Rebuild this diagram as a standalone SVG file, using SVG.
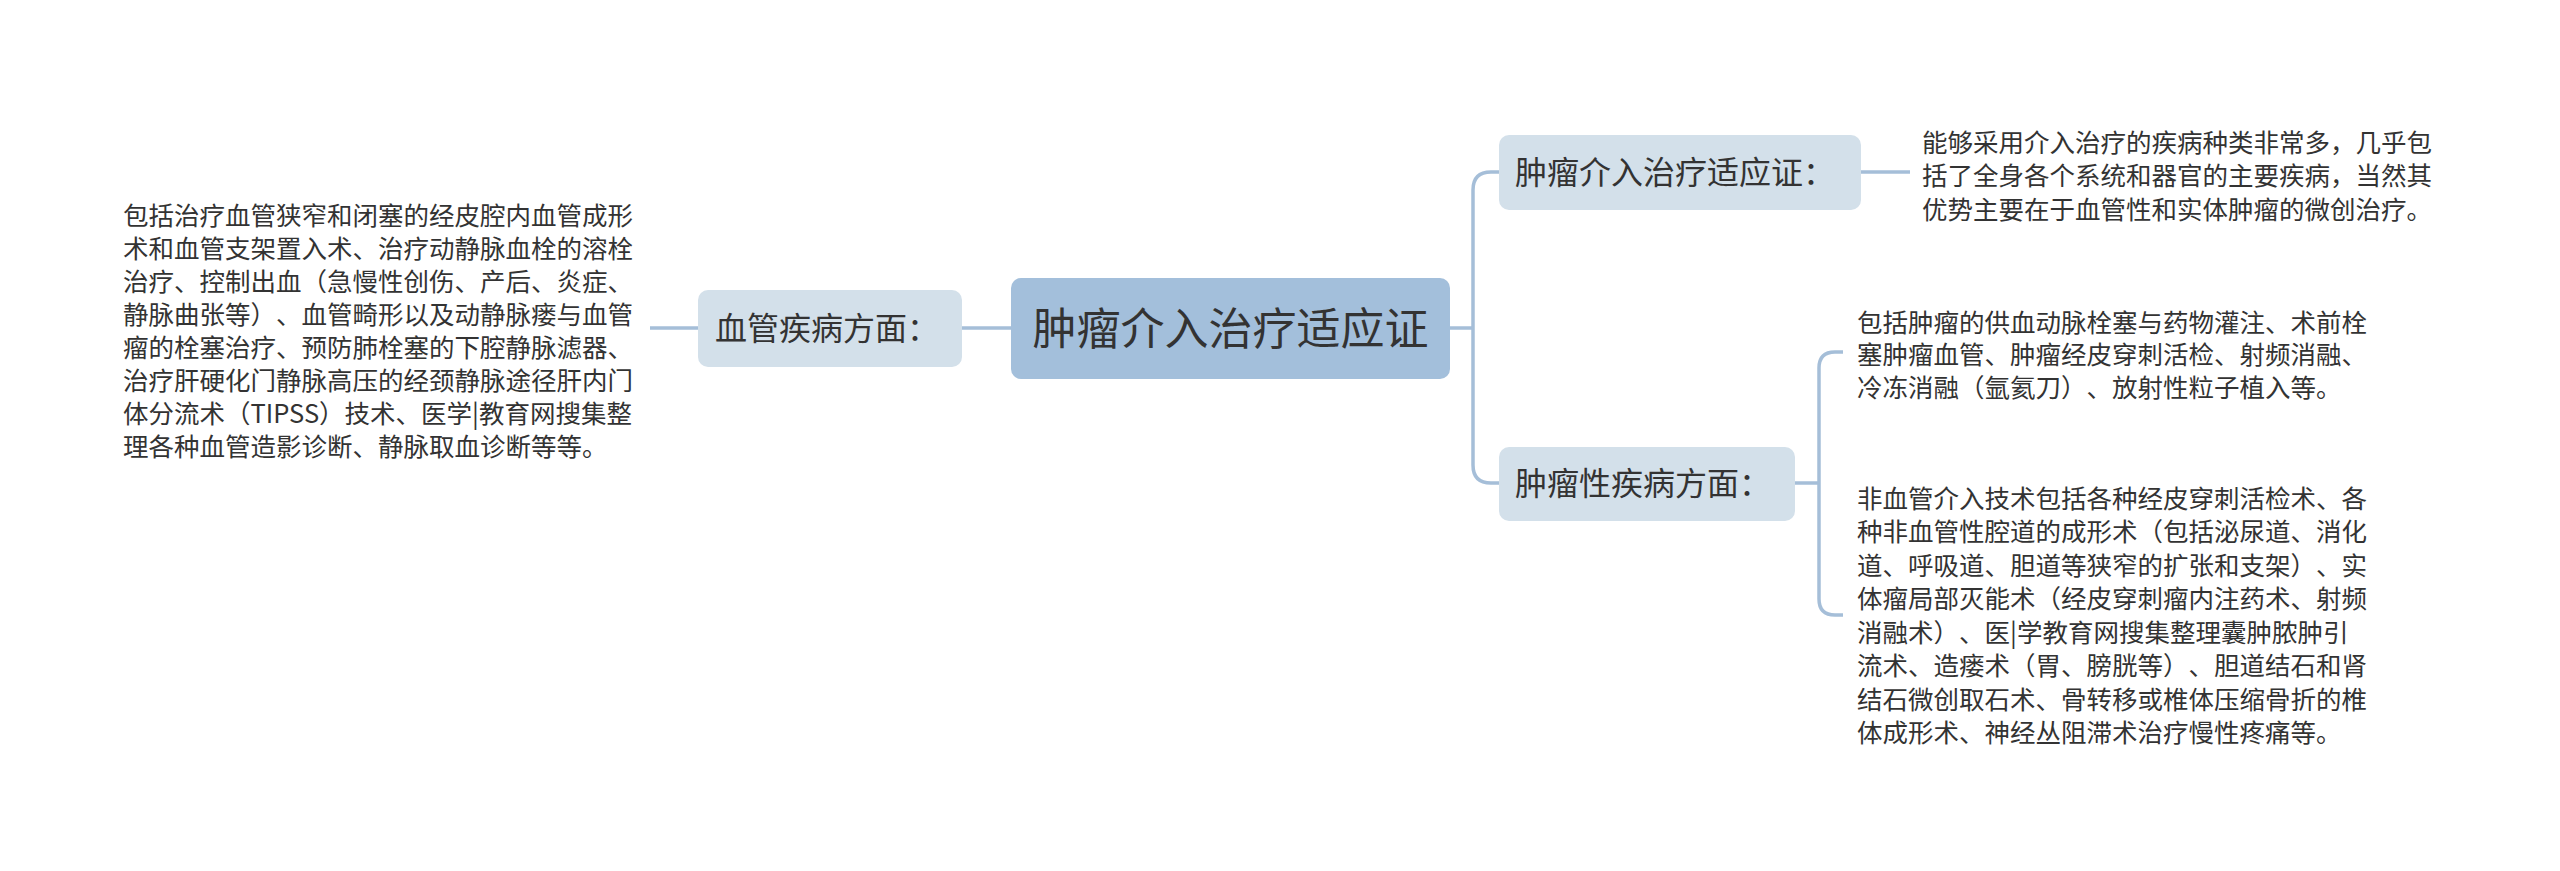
<svg xmlns="http://www.w3.org/2000/svg" width="2560" height="871" viewBox="0 0 2560 871">
<style>
.bg{fill:#ffffff}
.root{fill:#a3bfdb}
.sub{fill:#d3e0ea}
.t{font-family:"Noto Sans CJK SC","Noto Sans",sans-serif;fill:#333333;text-spacing-trim:space-all;font-feature-settings:"halt" 0,"chws" 0}
.rt{font-size:44px}
.st{font-size:32px}
.lt{font-size:25.5px}
.c{fill:none;stroke:#a5bed8;stroke-width:3.5}
</style>
<rect class="bg" x="0" y="0" width="2560" height="871"/>
<g id="connectors">
<path class="c" d="M650,328 H698"/>
<path class="c" d="M962,328 H1011"/>
<path class="c" d="M1450,328 H1473"/>
<path class="c" d="M1499,172 H1491 Q1473,172 1473,190 V465 Q1473,483 1491,483 H1499"/>
<path class="c" d="M1861,172 H1910"/>
<path class="c" d="M1795,483 H1819"/>
<path class="c" d="M1843,352 H1835 Q1819,352 1819,368 V599 Q1819,615 1835,615 H1843"/>
</g>
<g id="root">
<rect class="root" x="1011" y="278" width="439" height="101" rx="10"/>
<text class="t rt" x="1230.5" y="344.5" text-anchor="middle">肿瘤介入治疗适应证</text>
</g>
<g id="n-vascular">
<rect class="sub" x="698" y="290" width="264" height="77" rx="10"/>
<text class="t st" x="715" y="340">血管疾病方面：</text>
</g>
<g id="n-vascular-text">
<text class="t lt" x="123" y="224.5">包括治疗血管狭窄和闭塞的经皮腔内血管成形</text>
<text class="t lt" x="123" y="257.5">术和血管支架置入术、治疗动静脉血栓的溶栓</text>
<text class="t lt" x="123" y="290.5">治疗、控制出血（急慢性创伤、产后、炎症、</text>
<text class="t lt" x="123" y="323.5">静脉曲张等）、血管畸形以及动静脉瘘与血管</text>
<text class="t lt" x="123" y="356.5">瘤的栓塞治疗、预防肺栓塞的下腔静脉滤器、</text>
<text class="t lt" x="123" y="389.5">治疗肝硬化门静脉高压的经颈静脉途径肝内门</text>
<text class="t lt" x="123" y="422.5">体分流术（TIPSS）技术、医学|教育网搜集整</text>
<text class="t lt" x="123" y="455.5">理各种血管造影诊断、静脉取血诊断等等。</text>
</g>
<g id="n-indication">
<rect class="sub" x="1499" y="135" width="362" height="75" rx="10"/>
<text class="t st" x="1515" y="184">肿瘤介入治疗适应证：</text>
</g>
<g id="n-indication-text">
<text class="t lt" x="1922" y="151.5">能够采用介入治疗的疾病种类非常多，几乎包</text>
<text class="t lt" x="1922" y="185">括了全身各个系统和器官的主要疾病，当然其</text>
<text class="t lt" x="1922" y="218.5">优势主要在于血管性和实体肿瘤的微创治疗。</text>
</g>
<g id="n-tumor">
<rect class="sub" x="1499" y="447" width="296" height="74" rx="10"/>
<text class="t st" x="1515" y="495">肿瘤性疾病方面：</text>
</g>
<g id="n-tumor-text1">
<text class="t lt" x="1857" y="331.5">包括肿瘤的供血动脉栓塞与药物灌注、术前栓</text>
<text class="t lt" x="1857" y="364">塞肿瘤血管、肿瘤经皮穿刺活检、射频消融、</text>
<text class="t lt" x="1857" y="396.5">冷冻消融（氩氦刀）、放射性粒子植入等。</text>
</g>
<g id="n-tumor-text2">
<text class="t lt" x="1857" y="507.5">非血管介入技术包括各种经皮穿刺活检术、各</text>
<text class="t lt" x="1857" y="541">种非血管性腔道的成形术（包括泌尿道、消化</text>
<text class="t lt" x="1857" y="574.5">道、呼吸道、胆道等狭窄的扩张和支架）、实</text>
<text class="t lt" x="1857" y="608">体瘤局部灭能术（经皮穿刺瘤内注药术、射频</text>
<text class="t lt" x="1857" y="641.5">消融术）、医|学教育网搜集整理囊肿脓肿引</text>
<text class="t lt" x="1857" y="675">流术、造瘘术（胃、膀胱等）、胆道结石和肾</text>
<text class="t lt" x="1857" y="708.5">结石微创取石术、骨转移或椎体压缩骨折的椎</text>
<text class="t lt" x="1857" y="742">体成形术、神经丛阻滞术治疗慢性疼痛等。</text>
</g>
</svg>
